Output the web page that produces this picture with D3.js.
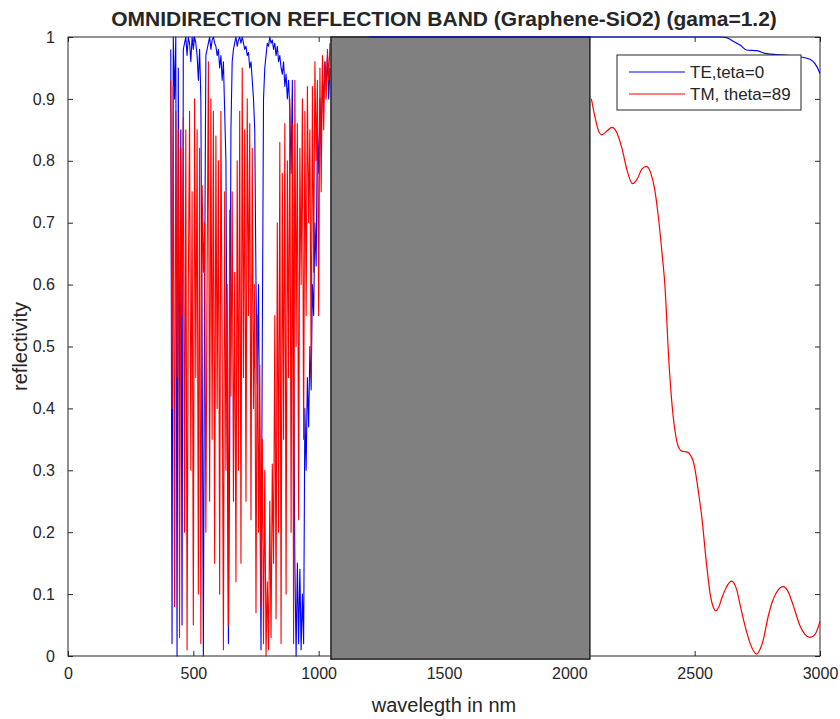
<!DOCTYPE html>
<html>
<head>
<meta charset="utf-8">
<script src="https://cdn.jsdelivr.net/npm/d3@7"></script>
<style>
  body { margin: 0; background: #fff; }
  text { font-family: "Liberation Sans", Arial, sans-serif; fill: #262626; }
</style>
</head>
<body>
<div id="chart"></div>
<script>
// frame
var svgWidth = 840;
var svgHeight = 719;
var margin = { top: 37, right: 20, bottom: 63, left: 68 };
var width = svgWidth - margin.left - margin.right;
var height = svgHeight - margin.top - margin.bottom;

// dense band 410-1045 nm, sampled every 5 nm
var lambdaBand = [410,415,420,425,430,435,440,445,450,455,460,465,470,475,480,485,490,495,500,505,
  510,515,520,525,530,535,540,545,550,555,560,565,570,575,580,585,590,595,600,605,
  610,615,620,625,630,635,640,645,650,655,660,665,670,675,680,685,690,695,700,705,
  710,715,720,725,730,735,740,745,750,755,760,765,770,775,780,785,790,795,800,805,
  810,815,820,825,830,835,840,845,850,855,860,865,870,875,880,885,890,895,900,905,
  910,915,920,925,930,935,940,945,950,955,960,965,970,975,980,985,990,995,1000,1005,
  1010,1015,1020,1025,1030,1035,1040,1045];

// TE, teta=0
var teBand = [0.98,0.02,1.0,0.9,1.0,0.0,0.95,0.3,0.85,0.05,0.98,0.99,1.0,0.97,1.0,0.99,0.96,1.0,0.98,1.0,
  0.99,0.97,0.93,0.98,0.9,0.5,0.0,0.6,0.97,0.98,0.99,1.0,0.98,0.995,1.0,0.99,0.985,0.97,0.98,0.95,
  0.97,0.93,0.96,0.88,0.8,0.4,0.02,0.35,0.85,0.96,0.98,0.99,1.0,0.985,0.995,1.0,0.99,1.0,0.99,0.98,
  0.985,0.97,0.975,0.95,0.96,0.93,0.9,0.85,0.6,0.44,0.6,0.3,0.01,0.5,0.9,0.95,0.97,0.99,0.985,1.0,
  0.99,0.995,0.98,0.99,0.97,0.985,0.96,0.97,0.95,0.94,0.96,0.92,0.94,0.9,0.93,0.88,0.78,0.93,0.5,0.15,
  0.0,0.15,0.02,0.14,0.01,0.1,0.02,0.4,0.3,0.45,0.37,0.5,0.43,0.6,0.55,0.7,0.63,0.85,0.78,0.9,
  0.84,0.93,0.9,0.96,0.92,0.97,0.9,0.95];

// TM, theta=89
var tmBand = [0.93,0.4,0.92,0.08,0.88,0.45,0.85,0.03,0.82,0.55,0.87,0.2,0.85,0.01,0.6,0.88,0.3,0.75,0.05,0.9,
  0.45,0.85,0.1,0.82,0.02,0.76,0.62,0.7,0.2,0.62,0.96,0.25,0.9,0.35,0.88,0.15,0.84,0.4,0.8,0.1,
  0.88,0.5,0.01,0.75,0.3,0.6,0.05,0.72,0.42,0.75,0.25,0.62,0.12,0.8,0.3,0.88,0.15,0.95,0.45,0.85,
  0.25,0.9,0.55,0.86,0.22,0.82,0.4,0.6,0.07,0.55,0.2,0.47,0.08,0.35,0.02,0.3,0.0,0.12,0.01,0.25,
  0.03,0.31,0.15,0.55,0.06,0.7,0.2,0.83,0.02,0.78,0.35,0.86,0.1,0.8,0.45,0.9,0.2,0.86,0.02,0.93,
  0.5,0.86,0.22,0.82,0.6,0.9,0.35,0.88,0.55,0.92,0.7,0.85,0.45,0.92,0.62,0.96,0.8,0.93,0.55,0.95,
  0.75,0.97,0.85,0.96,0.9,0.98,0.93,0.99];

// long wavelength side
var teTailNm = [1200,2600,2627,2650,2681,2707,2747,2787,2850,2920,2960,2980,2997,3000];
var teTail = [1.0,1.0,0.999,0.994,0.987,0.979,0.978,0.973,0.971,0.968,0.964,0.957,0.944,0.941];

var tmTailNm = [2088,2100,2115,2129,2150,2170,2190,2210,2230,2252,2270,2290,2308,2325,2340,2355,2370,2381,2398,2414,
  2425,2434,2448,2462,2474,2485,2494,2504,2514,2528,2548,2563,2575,2585,2597,2607,2625,2647,2667,2680,
  2694,2720,2735,2747,2760,2771,2794,2810,2827,2853,2870,2880,2900,2920,2940,2960,2980,2997,3000];
var tmTail = [0.9,0.875,0.85,0.842,0.848,0.854,0.845,0.82,0.785,0.763,0.77,0.787,0.791,0.78,0.755,0.71,0.65,0.6,0.47,0.388,
  0.355,0.339,0.331,0.33,0.329,0.323,0.315,0.295,0.268,0.226,0.146,0.097,0.078,0.073,0.08,0.092,0.11,0.121,0.108,0.085,
  0.06,0.022,0.008,0.003,0.01,0.022,0.065,0.088,0.103,0.112,0.106,0.097,0.073,0.049,0.035,0.03,0.035,0.052,0.056];

// omnidirectional band patch
var bandEdges = [1049, 2082];

var xTicks = [0,500,1000,1500,2000,2500,3000];
var yTicks = [0,0.1,0.2,0.3,0.4,0.5,0.6,0.7,0.8,0.9,1];
var seriesNames = ["TE,teta=0", "TM, theta=89"];
var seriesColors = ["#0000ff", "#ff0000"];

var svg = d3.select("#chart").append("svg").attr("width", svgWidth).attr("height", svgHeight);
var chartGroup = svg.append("g").attr("transform", `translate(${margin.left}, ${margin.top})`);

var xScale = d3.scaleLinear().domain([0, 3000]).range([0, width]);
var yScale = d3.scaleLinear().domain([0, 1]).range([height, 0]);

// axes (inward ticks on all four sides, like matlab's box on)
var axisColor = "#262626";
function styleAxis(g) {
  g.select(".domain").remove();
  g.selectAll(".tick line").attr("stroke", axisColor);
  g.selectAll(".tick text").style("font-size", "16px");
}
chartGroup.append("g").attr("transform", `translate(0, ${height})`)
  .call(d3.axisBottom(xScale).tickValues(xTicks).tickSizeInner(-5).tickSizeOuter(0).tickPadding(12).tickFormat(d3.format("d")))
  .call(styleAxis);
chartGroup.append("g")
  .call(d3.axisTop(xScale).tickValues(xTicks).tickSizeInner(-5).tickSizeOuter(0).tickFormat(""))
  .call(styleAxis);
chartGroup.append("g")
  .call(d3.axisLeft(yScale).tickValues(yTicks).tickSizeInner(-5).tickSizeOuter(0).tickPadding(13).tickFormat(d => d))
  .call(styleAxis);
chartGroup.append("g").attr("transform", `translate(${width}, 0)`)
  .call(d3.axisRight(yScale).tickValues(yTicks).tickSizeInner(-5).tickSizeOuter(0).tickFormat(""))
  .call(styleAxis);
chartGroup.append("rect").attr("width", width).attr("height", height)
  .attr("fill", "none").attr("stroke", axisColor).attr("stroke-width", 1);

var line = d3.line().x(d => xScale(d[0])).y(d => yScale(d[1]));
var smooth = d3.line().x(d => xScale(d[0])).y(d => yScale(d[1])).curve(d3.curveMonotoneX);

function drawLine(nm, vals, color, gen, w) {
  chartGroup.append("path")
    .datum(nm.map((n, i) => [n, vals[i]]))
    .attr("fill", "none").attr("stroke", color).attr("stroke-width", w)
    .attr("stroke-linejoin", "round")
    .attr("d", gen);
}

drawLine(lambdaBand, teBand, seriesColors[0], line, 1.1);
drawLine(lambdaBand, tmBand, seriesColors[1], line, 1.1);

// gray patch covers the band
chartGroup.append("rect")
  .attr("x", xScale(bandEdges[0]))
  .attr("y", yScale(1))
  .attr("width", xScale(bandEdges[1]) - xScale(bandEdges[0]))
  .attr("height", yScale(-0.005) - yScale(1))
  .attr("fill", "#808080").attr("stroke", "#222").attr("stroke-width", 1.5);

drawLine(teTailNm, teTail, seriesColors[0], smooth, 1.2);
drawLine(tmTailNm, tmTail, seriesColors[1], smooth, 1.2);

// title and labels
svg.append("text").attr("x", margin.left + width / 2).attr("y", 26)
  .attr("text-anchor", "middle").style("font-size", "21px").style("font-weight", "bold")
  .text("OMNIDIRECTION REFLECTION BAND (Graphene-SiO2) (gama=1.2)");
svg.append("text").attr("x", margin.left + width / 2).attr("y", 712)
  .attr("text-anchor", "middle").style("font-size", "20px")
  .text("wavelegth in nm");
svg.append("text").attr("transform", `translate(27, ${margin.top + height / 2}) rotate(-90)`)
  .attr("text-anchor", "middle").style("font-size", "20px")
  .text("reflectivity");

// legend
var legend = svg.append("g").attr("transform", "translate(617, 55)");
legend.append("rect").attr("width", 184).attr("height", 55)
  .attr("fill", "#fff").attr("stroke", axisColor).attr("stroke-width", 1);
seriesNames.forEach((name, i) => {
  var yy = 17 + i * 22;
  legend.append("line").attr("x1", 12).attr("x2", 68).attr("y1", yy).attr("y2", yy)
    .attr("stroke", seriesColors[i]).attr("stroke-width", 1.2);
  legend.append("text").attr("x", 73).attr("y", yy + 6).style("font-size", "17px").text(name);
});
</script>
</body>
</html>
